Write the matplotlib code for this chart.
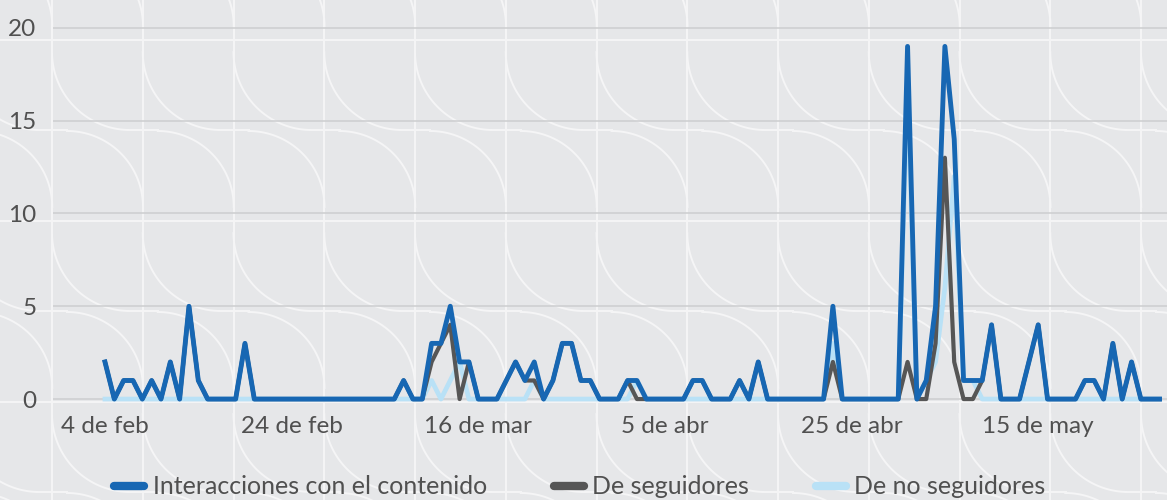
import numpy as np
import pandas as pd
import matplotlib
matplotlib.use("Agg")
import matplotlib.pyplot as plt
import matplotlib.dates as mdates
from matplotlib.lines import Line2D

# daily values from 4 feb
start = "2025-02-04"
interacciones = [2, 0, 1, 1, 0, 1, 0, 2, 0, 5, 1, 0, 0, 0, 0, 3, 0, 0, 0, 0,
                 0, 0, 0, 0, 0, 0, 0, 0, 0, 0, 0, 0, 1, 0, 0, 3, 3, 5, 2, 2,
                 0, 0, 0, 1, 2, 1, 2, 0, 1, 3, 3, 1, 1, 0, 0, 0, 1, 1, 0, 0,
                 0, 0, 0, 1, 1, 0, 0, 0, 1, 0, 2, 0, 0, 0, 0, 0, 0, 0, 5, 0,
                 0, 0, 0, 0, 0, 0, 19, 0, 1, 5, 19, 14, 1, 1, 1, 4, 0, 0, 0, 2,
                 4, 0, 0, 0, 0, 1, 1, 0, 3, 0, 2, 0, 0, 0]
seguidores = [2, 0, 1, 1, 0, 1, 0, 2, 0, 5, 1, 0, 0, 0, 0, 3, 0, 0, 0, 0,
              0, 0, 0, 0, 0, 0, 0, 0, 0, 0, 0, 0, 1, 0, 0, 2, 3, 4, 0, 2,
              0, 0, 0, 1, 2, 1, 1, 0, 1, 3, 3, 1, 1, 0, 0, 0, 1, 0, 0, 0,
              0, 0, 0, 1, 1, 0, 0, 0, 1, 0, 2, 0, 0, 0, 0, 0, 0, 0, 2, 0,
              0, 0, 0, 0, 0, 0, 2, 0, 0, 3, 13, 2, 0, 0, 1, 4, 0, 0, 0, 2,
              4, 0, 0, 0, 0, 1, 1, 0, 3, 0, 2, 0, 0, 0]
no_seguidores = [0, 0, 0, 0, 0, 0, 0, 0, 0, 0, 0, 0, 0, 0, 0, 0, 0, 0, 0, 0,
                 0, 0, 0, 0, 0, 0, 0, 0, 0, 0, 0, 0, 0, 0, 0, 1, 0, 1, 2, 0,
                 0, 0, 0, 0, 0, 0, 1, 0, 0, 0, 0, 0, 0, 0, 0, 0, 0, 1, 0, 0,
                 0, 0, 0, 0, 0, 0, 0, 0, 0, 0, 0, 0, 0, 0, 0, 0, 0, 0, 3, 0,
                 0, 0, 0, 0, 0, 0, 17, 0, 1, 2, 6, 12, 1, 1, 0, 0, 0, 0, 0, 0,
                 0, 0, 0, 0, 0, 0, 0, 0, 0, 0, 0, 0, 0, 0]
series_names = ["Interacciones con el contenido", "De seguidores", "De no seguidores"]
tick_dates = ["2025-02-04", "2025-02-24", "2025-03-16", "2025-04-05", "2025-04-25", "2025-05-15"]
tick_labels = ["4 de feb", "24 de feb", "16 de mar", "5 de abr", "25 de abr", "15 de may"]
y_ticks = [0, 5, 10, 15, 20]

dates = pd.date_range(start, periods=len(interacciones))

BG = "#e6e7e9"
PAT = "#f5f5f6"
TXT = "#505050"
BLUE = "#1767b3"
GREY = "#565656"
LIGHT = "#b9e1f6"

plt.rcParams["font.family"] = ["Lato", "DejaVu Sans"]

fig = plt.figure(figsize=(11.67, 5), dpi=100)
fig.patch.set_facecolor(BG)

# background pattern, in pixel coordinates
bg = fig.add_axes([0, 0, 1, 1], zorder=0)
bg.set_xlim(0, 1167)
bg.set_ylim(500, 0)
bg.axis("off")
tw, th = 90.75, 181.0
t = np.linspace(0, np.pi / 2, 40)
for i in range(-2, 15):
    x0 = 52 + i * tw
    bg.axvline(x0, color=PAT, lw=1.4)
    for j in range(-2, 4):
        y0 = 40 + j * th
        if i == 0:
            bg.axhline(y0, color=PAT, lw=1.4)
        bg.plot(x0 + 78 - 78 * np.cos(t), y0 + 12 + 78 * np.sin(t), color=PAT, lw=1.4)
        bg.plot(x0 + 15 + 76 * np.sin(t), y0 + 167 - 76 * np.cos(t), color=PAT, lw=1.4)
        bg.plot([x0 + 76, x0 + 106], [y0 + 90, y0 + 90], color=PAT, lw=1.4)

ax = fig.add_axes([53 / 1167, 95 / 500, 1 - 53 / 1167, 405 / 500], zorder=1)
ax.patch.set_alpha(0)
for s in ax.spines.values():
    s.set_visible(False)

ax.plot(dates, no_seguidores, color=LIGHT, lw=3.4, zorder=2)
ax.plot(dates, seguidores, color=GREY, lw=3.0, zorder=3)
ax.plot(dates, interacciones, color=BLUE, lw=3.5, zorder=4)

d0 = mdates.date2num(pd.Timestamp(start))
ax.set_xlim(d0 - 5.57, d0 + 113.8)
ax.set_ylim(-0.32, 21.5)
ax.set_yticks(y_ticks)
ax.set_xticks(pd.to_datetime(tick_dates))
ax.set_xticklabels(tick_labels)
ax.grid(axis="y", color="#cfd0d2", lw=1.2)
ax.set_axisbelow(True)
ax.tick_params(length=0, labelsize=17.5, colors=TXT)
ax.tick_params(axis="y", pad=12)
ax.tick_params(axis="x", pad=8)

handles = [Line2D([], [], color=c, lw=6, solid_capstyle="round") for c in (BLUE, GREY, LIGHT)]
fig.legend(handles, series_names, loc="center", bbox_to_anchor=(0.497, 0.026), ncol=3,
           frameon=False, fontsize=18, labelcolor=TXT, handlelength=1.2,
           handletextpad=0.35, columnspacing=2.65)

fig.savefig("out.png", dpi=100, facecolor=BG)
